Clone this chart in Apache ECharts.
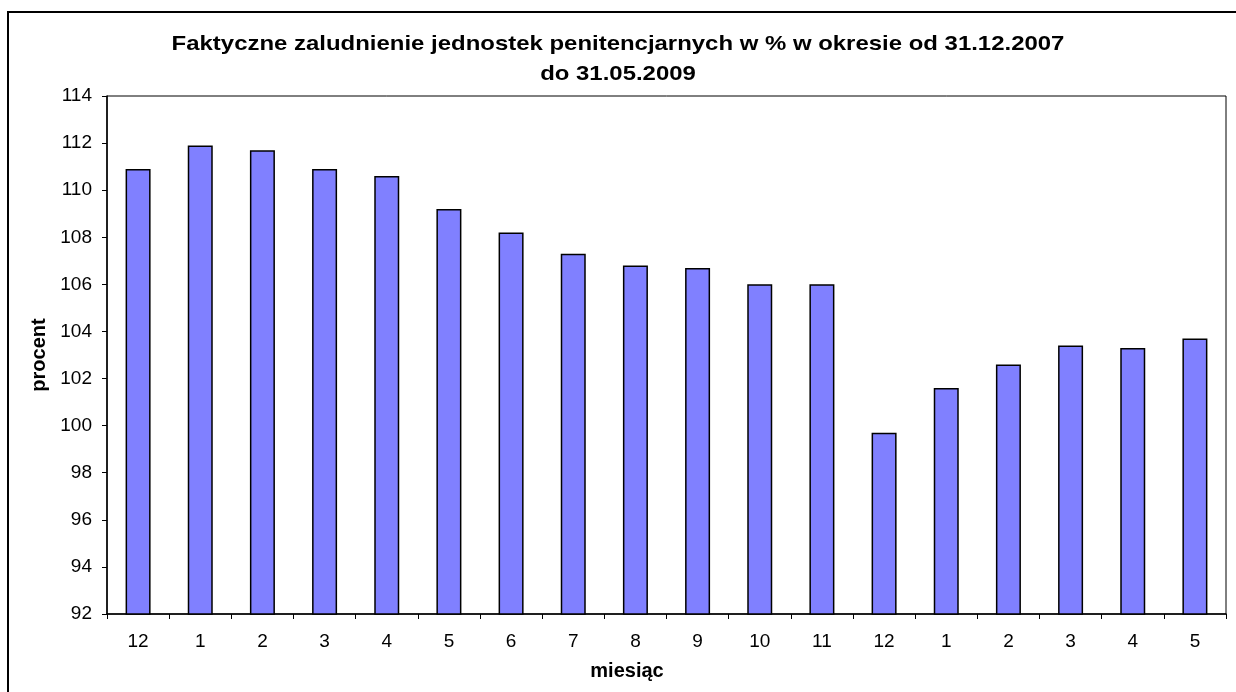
<!DOCTYPE html>
<html>
<head>
<meta charset="utf-8">
<script src="https://cdn.jsdelivr.net/npm/echarts@6/dist/echarts.min.js"></script>
<style>
  html, body { margin: 0; padding: 0; background: #fff; }
  #main { width: 1236px; height: 692px; }
</style>
</head>
<body>
<div id="main"></div>
<script>
var miesiace = ['12', '1', '2', '3', '4', '5', '6', '7', '8', '9', '10', '11', '12', '1', '2', '3', '4', '5'];
var procent = [110.9, 111.9, 111.7, 110.9, 110.6, 109.2, 108.2, 107.3, 106.8, 106.7, 106.0, 106.0, 99.7, 101.6, 102.6, 103.4, 103.3, 103.7];
var yTicks = { min: 92, max: 114, step: 2 };
var tytul = ['Faktyczne zaludnienie jednostek penitencjarnych w % w okresie od 31.12.2007', 'do 31.05.2009'];

var font = 'Liberation Sans, Arial, sans-serif';
var chart = echarts.init(document.getElementById('main'));

// title lines drawn as graphic text so they can be stretched a bit wider
function titleLine(txt, y) {
    return {
        type: 'text',
        x: 618,
        y: y,
        scaleX: 1.14,
        style: {
            text: txt,
            font: 'bold 21px ' + font,
            fill: '#000',
            align: 'center',
            verticalAlign: 'middle'
        },
        silent: true
    };
}

var option = {
    animation: false,
    backgroundColor: '#fff',
    graphic: [{
        type: 'rect',
        shape: { x: 8, y: 12, width: 1300, height: 800 },
        style: { fill: 'none', stroke: '#000', lineWidth: 2 },
        silent: true
    },
    titleLine(tytul[0], 44),
    titleLine(tytul[1], 74),
    {
        type: 'text',
        x: 627,
        y: 671,
        style: {
            text: 'miesiąc',
            font: 'bold 20px ' + font,
            fill: '#000',
            align: 'center',
            verticalAlign: 'middle'
        },
        silent: true
    }],
    grid: {
        left: 107,
        top: 96,
        right: 10,
        bottom: 78,
        show: true,
        borderColor: '#000',
        borderWidth: 1
    },
    xAxis: {
        type: 'category',
        data: miesiace,
        boundaryGap: true,
        axisLine: { lineStyle: { color: '#000', width: 1.5 } },
        axisTick: { show: true, alignWithLabel: false, length: 5, lineStyle: { color: '#000' } },
        axisLabel: { color: '#000', fontFamily: font, fontSize: 19, margin: 18 },
        splitLine: { show: false }
    },
    yAxis: {
        type: 'value',
        min: yTicks.min,
        max: yTicks.max,
        interval: yTicks.step,
        name: 'procent',
        nameLocation: 'middle',
        nameGap: 56,
        nameRotate: 90,
        nameTextStyle: { fontFamily: font, fontSize: 20, fontWeight: 'bold', color: '#000' },
        axisLine: { show: true, lineStyle: { color: '#000', width: 1.5 } },
        axisTick: { show: true, length: 5, lineStyle: { color: '#000' } },
        axisLabel: { color: '#000', fontFamily: font, fontSize: 19, margin: 15 },
        splitLine: { show: false }
    },
    series: [{
        type: 'bar',
        data: procent,
        barWidth: 25,
        itemStyle: {
            color: '#8080FF',
            borderColor: '#000',
            borderWidth: 1.5
        }
    }]
};

chart.setOption(option);
</script>
</body>
</html>
